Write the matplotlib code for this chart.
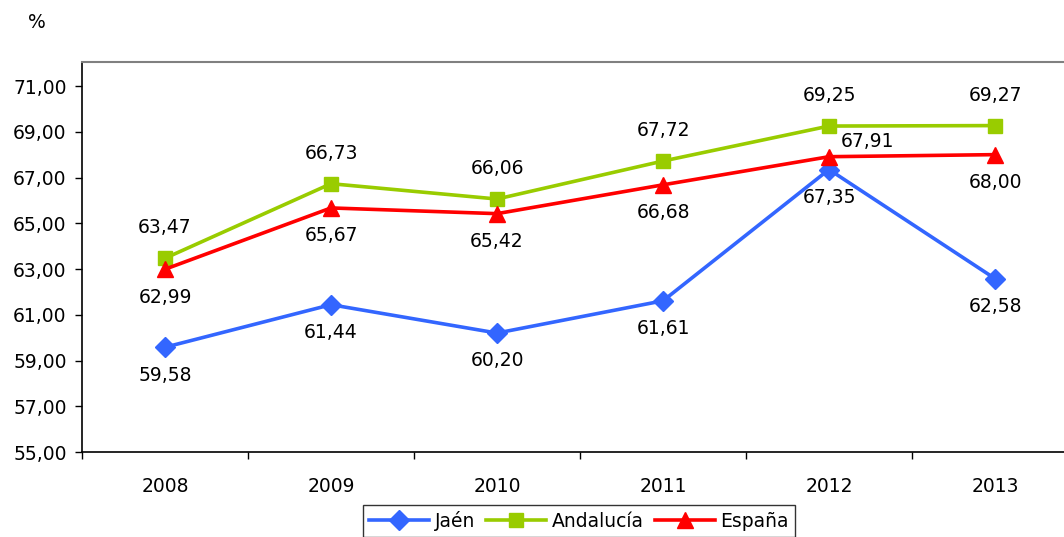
import matplotlib.pyplot as plt
import numpy as np
from matplotlib.ticker import FixedLocator, FuncFormatter

years = ['2008', '2009', '2010', '2011', '2012', '2013']
jaen = [59.58, 61.44, 60.20, 61.61, 67.35, 62.58]
andalucia = [63.47, 66.73, 66.06, 67.72, 69.25, 69.27]
espana = [62.99, 65.67, 65.42, 66.68, 67.91, 68.00]


def fmt(v):
    return f'{v:.2f}'.replace('.', ',')


plt.rcParams['font.family'] = 'DejaVu Sans'
fig = plt.figure(figsize=(10.64, 5.37), dpi=100)
W, H = 1064, 537
ax = fig.add_axes([82 / W, 1 - 452 / H, (1078 - 82) / W, (452 - 62) / H])

x = np.arange(len(years))
ax.plot(x, jaen, color='#3366FF', lw=2.6, marker='D', ms=10, label='Jaén')
ax.plot(x, andalucia, color='#99CC00', lw=2.6, marker='s', ms=10, label='Andalucía')
ax.plot(x, espana, color='#FF0000', lw=2.6, marker='^', ms=12, label='España')

fs = 13.5
for xi, v in zip(x, jaen):
    ax.annotate(fmt(v), (xi, v), xytext=(0, -20), textcoords='offset points',
                ha='center', va='center', fontsize=fs)
for xi, v in zip(x, andalucia):
    ax.annotate(fmt(v), (xi, v), xytext=(0, 22), textcoords='offset points',
                ha='center', va='center', fontsize=fs)
for i, (xi, v) in enumerate(zip(x, espana)):
    off = (28, 11) if i == 4 else (0, -20)
    ax.annotate(fmt(v), (xi, v), xytext=off, textcoords='offset points',
                ha='center', va='center', fontsize=fs)

ax.set_xlim(-0.5, len(years) - 0.5)
ax.set_ylim(55, 72.05)
ax.set_yticks(np.arange(55, 72, 2))
ax.yaxis.set_major_formatter(FuncFormatter(lambda v, p: fmt(v)))
ax.tick_params(axis='y', labelsize=fs, length=5, width=1, direction='out', pad=6)

ax.xaxis.set_major_locator(FixedLocator(np.arange(-0.5, len(years), 1)))
ax.xaxis.set_minor_locator(FixedLocator(x))
ax.set_xticklabels([])
ax.set_xticklabels(years, minor=True)
ax.tick_params(axis='x', which='major', length=5, width=1, direction='out')
ax.tick_params(axis='x', which='minor', length=0, labelsize=fs, pad=18)

ax.spines['right'].set_visible(False)
ax.spines['top'].set_color('#808080')
ax.spines['top'].set_linewidth(1.5)
ax.spines['left'].set_linewidth(1.2)
ax.spines['bottom'].set_linewidth(1.2)

fig.text(37 / W, 1 - 22 / H, '%', ha='center', va='center', fontsize=fs)

leg = fig.legend(loc='center', bbox_to_anchor=(579 / W, 1 - 521 / H), ncol=3,
                 fontsize=fs, frameon=True, fancybox=False, edgecolor='black',
                 handlelength=3.2, columnspacing=0.6, handletextpad=0.3,
                 borderpad=0.3, borderaxespad=0)
leg.get_frame().set_linewidth(1)

fig.savefig('out.png', dpi=100)
